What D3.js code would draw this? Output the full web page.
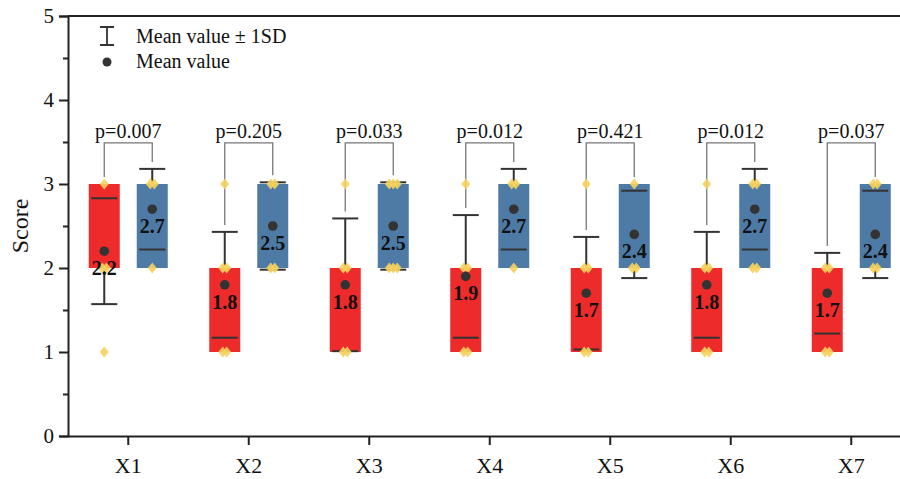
<!DOCTYPE html>
<html>
<head>
<meta charset="utf-8">
<script src="https://cdn.jsdelivr.net/npm/d3@7/dist/d3.min.js"></script>
<style>
  body { margin: 0; background: #fff; }
  svg text { font-family: "Liberation Serif", "Times New Roman", serif; fill: #111; }
</style>
</head>
<body>
<svg id="chart" width="900" height="479"></svg>
<script>
// data
const categories = ["X1", "X2", "X3", "X4", "X5", "X6", "X7"]
const pValues = ["0.007", "0.205", "0.033", "0.012", "0.421", "0.012", "0.037"]

const redMean = [2.2, 1.8, 1.8, 1.9, 1.7, 1.8, 1.7]
const redSD   = [0.63, 0.63, 0.79, 0.73, 0.67, 0.63, 0.48]
const redQ1   = [2, 1, 1, 1, 1, 1, 1]
const redQ3   = [3, 2, 2, 2, 2, 2, 2]
const redPts  = [
    [3, 2, 2, 1],
    [3, 2, 2, 1, 1],
    [3, 2, 2, 1, 1],
    [3, 2, 2, 1, 1],
    [3, 2, 2, 1, 1],
    [3, 2, 2, 1, 1],
    [2, 2, 1, 1]
]

const blueMean = [2.7, 2.5, 2.5, 2.7, 2.4, 2.7, 2.4]
const blueSD   = [0.48, 0.52, 0.52, 0.48, 0.52, 0.48, 0.52]
const blueQ1   = [2, 2, 2, 2, 2, 2, 2]
const blueQ3   = [3, 3, 3, 3, 3, 3, 3]
const bluePts  = [
    [3, 3, 2],
    [3, 3, 2, 2],
    [3, 3, 3, 2, 2, 2],
    [3, 3, 2],
    [3, 2, 2],
    [3, 3, 2, 2],
    [3, 3, 2, 2]
]

const yTicks = [0, 1, 2, 3, 4, 5]
const yMinor = [0.5, 1.5, 2.5, 3.5, 4.5]

const RED = "#ee2b2b", BLUE = "#4e7aa6", DOT = "#f6d25e", INK = "#333"

const svg = d3.select("#chart")
const mLeft = 68, mTop = 16, mBottom = 436, step = 120.5
const mRight = mLeft + step * categories.length

const x = d3.scaleBand().domain(categories).range([mLeft, mRight]).padding(0)
const y = d3.scaleLinear().domain([0, 5]).range([mBottom, mTop])
const off = 24, boxW = 31, capW = 26

const groups = []
categories.forEach((c, i) => {
    groups.push({cat: c, side: -1, fill: RED, mean: redMean[i], sd: redSD[i], q1: redQ1[i], q3: redQ3[i], pts: redPts[i]})
    groups.push({cat: c, side: 1, fill: BLUE, mean: blueMean[i], sd: blueSD[i], q1: blueQ1[i], q3: blueQ3[i], pts: bluePts[i]})
})
const cx = d => x(d.cat) + x.bandwidth() / 2 + d.side * off

// p-value brackets
const brY = y(3.49)
categories.forEach((c, i) => {
    const r = groups[i * 2], b = groups[i * 2 + 1]
    const legEnd = d => y(Math.max(d.q3, d.mean + d.sd)) - 7
    svg.append("path")
        .attr("d", `M${cx(r)},${legEnd(r)} V${brY} H${cx(b)} V${legEnd(b)}`)
        .attr("fill", "none").attr("stroke", "#777").attr("stroke-width", 1.3)
    svg.append("text")
        .attr("x", x(c) + x.bandwidth() / 2).attr("y", brY - 5)
        .attr("text-anchor", "middle").style("font-size", "20px")
        .text("p=" + pValues[i])
})

// whisker stems (under boxes)
svg.selectAll(".stem").data(groups).enter().append("line")
    .attr("x1", cx).attr("x2", cx)
    .attr("y1", d => y(d.mean + d.sd)).attr("y2", d => y(d.mean - d.sd))
    .attr("stroke", INK).attr("stroke-width", 2)

svg.selectAll(".box").data(groups).enter().append("rect")
    .attr("x", d => cx(d) - boxW / 2).attr("width", boxW)
    .attr("y", d => y(d.q3)).attr("height", d => y(d.q1) - y(d.q3))
    .attr("fill", d => d.fill)

// caps
groups.forEach(d => {
    [d.mean + d.sd, d.mean - d.sd].forEach(v => {
        svg.append("line")
            .attr("x1", cx(d) - capW / 2).attr("x2", cx(d) + capW / 2)
            .attr("y1", y(v)).attr("y2", y(v))
            .attr("stroke", INK).attr("stroke-width", 2)
    })
})

// raw points as small diamonds, spread a little when they share a value
groups.forEach(d => {
    const counts = d3.rollup(d.pts, v => v.length, v => v)
    const seen = new Map()
    d.pts.forEach(v => {
        const k = seen.get(v) || 0
        seen.set(v, k + 1)
        const dx = (k - (counts.get(v) - 1) / 2) * 4
        svg.append("path")
            .attr("d", d3.symbol(d3.symbolDiamond, 44)())
            .attr("transform", `translate(${cx(d) + dx},${y(v)}) scale(1.25,0.9)`)
            .attr("fill", DOT).attr("opacity", 0.9)
    })
})

// means and labels
svg.selectAll(".mean").data(groups).enter().append("circle")
    .attr("cx", cx).attr("cy", d => y(d.mean)).attr("r", 4.8).attr("fill", INK)

svg.selectAll(".mlab").data(groups).enter().append("text")
    .attr("x", cx).attr("y", d => y(d.mean) + 24)
    .attr("text-anchor", "middle")
    .style("font-size", "20px").style("font-weight", "bold")
    .text(d => d.mean.toFixed(1))

// axes
const yAxis = svg.append("g").attr("transform", `translate(${mLeft},0)`)
    .call(d3.axisLeft(y).tickValues(yTicks).tickSize(9).tickPadding(5).tickFormat(d3.format("d")))
yAxis.selectAll("text").style("font-size", "21px")
svg.append("g").attr("transform", `translate(${mLeft},0)`)
    .call(d3.axisLeft(y).tickValues(yMinor).tickSize(5).tickFormat(""))
    .select(".domain").remove()

const xAxis = svg.append("g").attr("transform", `translate(0,${mBottom})`)
    .call(d3.axisBottom(x).tickSize(9).tickPadding(12).tickSizeOuter(0))
xAxis.selectAll("text").style("font-size", "22px")

svg.selectAll(".domain, .tick line").attr("stroke", "#222").attr("stroke-width", 2)
svg.selectAll(".tick text").attr("fill", "#111")

// frame top and right
svg.append("path").attr("d", `M${mLeft},${mTop} H${mRight} V${mBottom}`)
    .attr("fill", "none").attr("stroke", "#222").attr("stroke-width", 2)

svg.append("text")
    .attr("transform", `translate(28,${(mTop + mBottom) / 2}) rotate(-90)`)
    .attr("text-anchor", "middle").style("font-size", "24px")
    .text("Score")

// legend
const lg = svg.append("g")
lg.append("path").attr("d", "M100,27 H114 M107,27 V45 M100,45 H114")
    .attr("stroke", INK).attr("stroke-width", 1.8).attr("fill", "none")
lg.append("text").attr("x", 136).attr("y", 43).style("font-size", "20px").text("Mean value ± 1SD")
lg.append("circle").attr("cx", 107).attr("cy", 62).attr("r", 4.5).attr("fill", INK)
lg.append("text").attr("x", 136).attr("y", 68).style("font-size", "20px").text("Mean value")
</script>
</body>
</html>
